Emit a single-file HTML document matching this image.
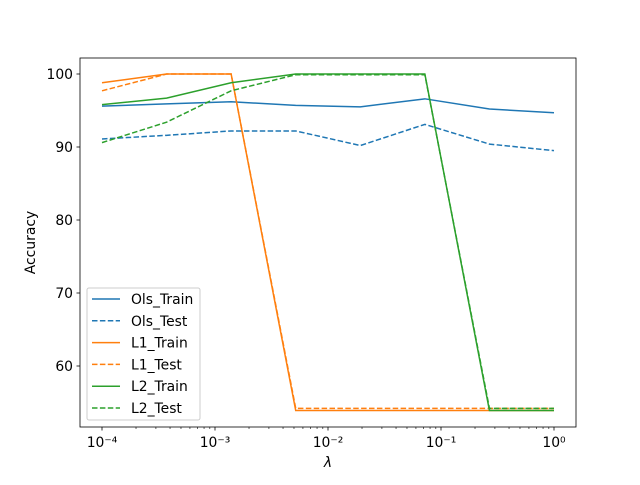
<!DOCTYPE html>
<html><head><meta charset="utf-8"><style>
body{margin:0;background:#fff}
svg{font-family:"DejaVu Sans","Liberation Sans",sans-serif}
</style></head><body>
<svg id="c" width="640" height="480"></svg>
<script>
const xs=[1e-4,3.728e-4,1.389e-3,5.179e-3,1.931e-2,7.197e-2,0.2683,1];
const olsTrain=[95.6,95.9,96.2,95.7,95.5,96.6,95.2,94.7];
const olsTest=[91.1,91.6,92.2,92.2,90.2,93.1,90.4,89.5];
const l1Train=[98.8,100,100,53.9,53.9,53.9,53.9,53.9];
const l1Test=[97.7,100,100,54.2,54.2,54.2,54.2,54.2];
const l2Train=[95.8,96.7,98.8,100,100,100,53.9,53.9];
const l2Test=[90.6,93.4,97.7,99.9,99.9,99.9,54.2,54.2];
const yTicks=[60,70,80,90,100];
const xTickExp=[-4,-3,-2,-1,0];
const xTickLabels=["10\u207B\u2074","10\u207B\u00B3","10\u207B\u00B2","10\u207B\u00B9","10\u2070"];
const series=[
 {name:"Ols_Train",data:olsTrain,color:"#1f77b4",dash:""},
 {name:"Ols_Test",data:olsTest,color:"#1f77b4",dash:"5.5,2.4"},
 {name:"L1_Train",data:l1Train,color:"#ff7f0e",dash:""},
 {name:"L1_Test",data:l1Test,color:"#ff7f0e",dash:"5.5,2.4"},
 {name:"L2_Train",data:l2Train,color:"#2ca02c",dash:""},
 {name:"L2_Test",data:l2Test,color:"#2ca02c",dash:"5.5,2.4"}];
const L=80,R=576,T=58,B=427;
const X=v=>102+(Math.log10(v)+4)*113;
const Y=v=>74+(100-v)*7.3;
const svg=document.getElementById('c');const NS="http://www.w3.org/2000/svg";
function mk(t,a,p){const e=document.createElementNS(NS,t);for(const k in a)e.setAttribute(k,a[k]);(p||svg).appendChild(e);return e;}
series.forEach(s=>{
 const pl=mk('polyline',{points:s.data.map((v,i)=>X(xs[i])+","+Y(v)).join(" "),fill:"none",stroke:s.color,"stroke-width":1.5,"stroke-dasharray":s.dash});
 
 
});
const fr=mk('rect',{x:L,y:T,width:R-L,height:B-T,fill:"none",stroke:"#000","stroke-width":0.8});


yTicks.forEach(v=>{const y=Y(v);mk('line',{x1:L-3.5,x2:L,y1:y,y2:y,stroke:"#000","stroke-width":0.8});
 const t=mk('text',{x:L-7,y:y+5,"text-anchor":"end","font-size":13.9});t.textContent=v;
 
 });
xTickExp.forEach((e,i)=>{const x=X(Math.pow(10,e));mk('line',{x1:x,x2:x,y1:B,y2:B+3.5,stroke:"#000","stroke-width":0.8});
 for(let m=2;m<10&&e<0;m++){const xm=X(m*Math.pow(10,e));mk('line',{x1:xm,x2:xm,y1:B,y2:B+2,stroke:"#000","stroke-width":0.6});}
 const t=mk('text',{x:x,y:B+20,"text-anchor":"middle","font-size":13.9});t.textContent=xTickLabels[i];
 
 });
const yl=mk('text',{x:35,y:(T+B)/2,"text-anchor":"middle","font-size":13.9,transform:`rotate(-90 35 ${(T+B)/2})`});yl.textContent="Accuracy";


const xl=mk('text',{x:(L+R)/2,y:B+40,"text-anchor":"middle","font-size":13.9,"font-style":"italic"});xl.textContent="\u03BB";


const lg=mk('g',{});


mk('rect',{x:87,y:288,width:113,height:132,rx:2,fill:"#fff","fill-opacity":0.8,stroke:"#ccc"},lg);
series.forEach((s,i)=>{const y=299+i*21.8;
 mk('line',{x1:92,x2:120,y1:y,y2:y,stroke:s.color,"stroke-width":1.5,"stroke-dasharray":s.dash},lg);
 const t=mk('text',{x:131,y:y+5,"font-size":13.9},lg);t.textContent=s.name;
 
 });
</script>
</body></html>
